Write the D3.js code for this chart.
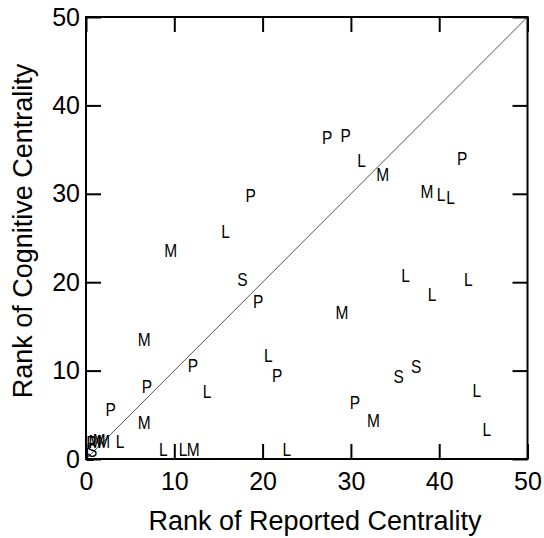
<!DOCTYPE html>
<html>
<head>
<meta charset="utf-8">
<script src="https://cdn.jsdelivr.net/npm/d3@7"></script>
<style>
  html, body { margin: 0; padding: 0; background: #fff; }
  svg { display: block; }
  text { font-family: "Liberation Sans", Arial, Helvetica, sans-serif; fill: #000; }
</style>
</head>
<body>
<svg id="chart" width="544" height="538"></svg>
<script>
// Group codes for each respondent
const groups = ["P","P","L","M","P","M","L","L","P","L",
                "M","S","P","L","L","L","M","M","P","L",
                "P","P","L","S","S","L","P","M","L","P",
                "M","L","L","L","M","L","P","M","M","M",
                "S","L"];
// Rank of reported centrality
const reportedRank = [27.3,29.4,31.2,33.6,42.6,38.6,40.2,41.3,18.65,15.8,
                      9.6,17.7,19.5,36.2,43.3,39.2,29.0,6.6,12.1,20.65,
                      21.65,6.9,13.7,37.4,35.4,44.25,30.45,32.55,45.4,2.8,
                      6.6,3.85,8.75,11.0,12.15,22.75,0.6,1.0,1.5,2.0,
                      0.7,0.4];
// Rank of cognitive centrality
const cognitiveRank = [36.35,36.6,33.8,32.2,33.95,30.2,29.9,29.55,29.8,25.7,
                       23.55,20.25,17.8,20.75,20.35,18.65,16.6,13.55,10.6,11.7,
                       9.4,8.15,7.6,10.45,9.3,7.75,6.35,4.35,3.35,5.55,
                       4.15,1.95,1.1,1.1,1.1,1.1,1.9,2.0,2.1,2.0,
                       1.0,0.45];
const tickValues = [0,10,20,30,40,50];

const svg = d3.select("#chart");
const plotLeft = 86, plotRight = 527.5, plotTop = 17, plotBottom = 459;

const x = d3.scaleLinear().domain([0,50]).range([plotLeft,plotRight]);
const y = d3.scaleLinear().domain([0,50]).range([plotBottom,plotTop]);

// Identity line
svg.append("line")
  .attr("x1", x(0)).attr("y1", y(0))
  .attr("x2", x(50)).attr("y2", y(50))
  .attr("stroke", "#555").attr("stroke-width", 1);

// Axes with inward ticks
function styleAxis(g, showLabels) {
  g.select(".domain").remove();
  g.selectAll(".tick line").attr("stroke", "#000").attr("stroke-width", 2);
  g.selectAll(".tick text")
    .style("font-size", "25px")
    .style("font-family", "'Liberation Sans', Arial, sans-serif")
    .attr("fill", "#000");
  if (!showLabels) g.selectAll(".tick text").remove();
}

svg.append("g").attr("transform", `translate(0,${plotBottom})`)
  .call(d3.axisBottom(x).tickValues(tickValues).tickSize(-15).tickPadding(13).tickFormat(d3.format("d")))
  .call(g => styleAxis(g, true));
svg.append("g").attr("transform", `translate(${plotLeft},0)`)
  .call(d3.axisLeft(y).tickValues(tickValues).tickSize(-15).tickPadding(6).tickFormat(d3.format("d")))
  .call(g => styleAxis(g, true));
svg.append("g").attr("transform", `translate(0,${plotTop})`)
  .call(d3.axisTop(x).tickValues(tickValues).tickSize(-15))
  .call(g => styleAxis(g, false));
svg.append("g").attr("transform", `translate(${plotRight},0)`)
  .call(d3.axisRight(y).tickValues(tickValues).tickSize(-15))
  .call(g => styleAxis(g, false));

// Frame
svg.append("rect")
  .attr("x", plotLeft).attr("y", plotTop)
  .attr("width", plotRight - plotLeft).attr("height", plotBottom - plotTop)
  .attr("fill", "none").attr("stroke", "#000").attr("stroke-width", 2);

// Letter markers
svg.append("g").selectAll("text")
  .data(groups.map((g, i) => ({g, rx: reportedRank[i], cy: cognitiveRank[i]})))
  .join("text")
  .attr("transform", d => `translate(${x(d.rx)},${y(d.cy)}) scale(1,1.15)`)
  .attr("text-anchor", "middle")
  .attr("dy", "0.36em")
  .style("font-size", "15.5px")
  .text(d => d.g);

// Axis titles
svg.append("text")
  .attr("x", 315).attr("y", 530)
  .attr("text-anchor", "middle")
  .style("font-size", "27px")
  .text("Rank of Reported Centrality");

svg.append("text")
  .attr("transform", "translate(32,231) rotate(-90)")
  .attr("text-anchor", "middle")
  .style("font-size", "27px")
  .text("Rank of Cognitive Centrality");
</script>
</body>
</html>
